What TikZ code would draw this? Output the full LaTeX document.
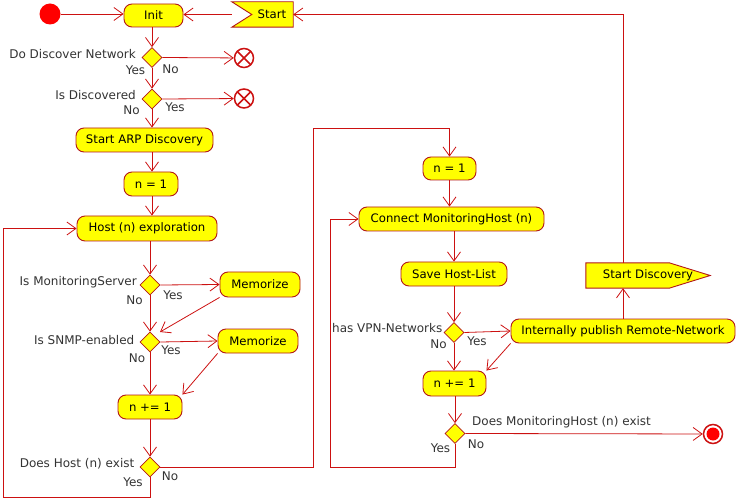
\documentclass[tikz,border=0pt]{standalone}
\usepackage{fontspec}
\setmainfont{DejaVu Sans}
\usetikzlibrary{shapes.geometric,arrows.meta}

\definecolor{umlred}{RGB}{204,17,17}
\definecolor{umlborder}{RGB}{178,24,24}
\definecolor{umlyellow}{RGB}{255,255,0}
\definecolor{guardgray}{RGB}{51,51,51}

\tikzset{
    act/.style={draw=umlborder, line width=0.9bp, fill=umlyellow, rounded corners=8bp, minimum height=24bp, inner sep=0pt, font=\fontsize{11.7bp}{14bp}\selectfont},
    choice/.style={diamond, draw=umlborder, line width=0.7bp, fill=umlyellow, minimum size=20bp, inner sep=0pt},
    guard/.style={text=guardgray, inner sep=0pt, font=\fontsize{12bp}{14bp}\selectfont},
    sigtext/.style={inner sep=0pt, font=\fontsize{11.7bp}{14bp}\selectfont},
    sigframe/.style={inner sep=0pt, minimum height=25bp},
    sigline/.style={draw=umlborder, line width=0.9bp, fill=umlyellow},
    flow/.style={draw=umlred, line width=0.8bp, -{Straight Barb[length=9bp,width=13bp]}},
    stopx/.style={circle, draw=umlred, line width=1.5bp, minimum size=19bp, inner sep=0pt,
        path picture={\draw[umlred, line width=1.5bp] (path picture bounding box.north west) -- (path picture bounding box.south east) (path picture bounding box.north east) -- (path picture bounding box.south west);}},
}

\begin{document}
\begin{tikzpicture}[x=1bp,y=-1bp]
    \useasboundingbox (0,0) rectangle (737,500);

    \node[circle, fill=red, minimum size=21bp, inner sep=0pt] (begin) at (50,14) {};
    \node[act, minimum width=59bp, minimum height=23bp] (init) at (153.5,15.5) {Init};

    \node[sigframe, minimum width=61bp] (start) at (262.5,14.5) {};
    \draw[sigline] (start.north west) -- (start.north east) -- (start.south east) -- (start.south west) -- ([xshift=20bp]start.west) -- cycle;
    \node[sigtext] (startText) at (272,14.5) {Start};

    \node[choice] (d1) at (152,57.5) {};
    \node[stopx] (x1) at (244,58) {};
    \node[choice] (d2) at (152,99) {};
    \node[stopx] (x2) at (244,98.5) {};
    \node[act, minimum width=137bp] (arp) at (144.5,140) {Start ARP Discovery};
    \node[act, minimum width=54bp] (n1) at (151,184) {n = 1};
    \node[act, minimum width=140bp, minimum height=25bp] (host) at (147,228.5) {Host (n) exploration};
    \node[choice] (d3) at (150,285) {};
    \node[act, minimum width=80bp, minimum height=25bp] (mem1) at (260,284.5) {Memorize};
    \node[choice] (d4) at (150,342) {};
    \node[act, minimum width=80bp] (mem2) at (258,341) {Memorize};
    \node[act, minimum width=64bp] (inc) at (150,407) {n += 1};
    \node[choice] (d5) at (150,467) {};

    \node[act, minimum width=53bp, minimum height=23bp] (n1b) at (449.5,168.5) {n = 1};
    \node[act, minimum width=185bp] (conn) at (451.5,219) {Connect MonitoringHost (n)};
    \node[act, minimum width=106bp] (save) at (454,274) {Save Host-List};
    \node[choice] (d6) at (454,332.5) {};
    \node[act, minimum width=224bp] (pub) at (623,331) {Internally publish Remote-Network};
    \node[act, minimum width=63bp, minimum height=25bp] (incb) at (454.5,383.5) {n += 1};
    \node[choice] (d7) at (455,433.5) {};
    \node[circle, draw=umlred, line width=1.5bp, minimum size=19bp, inner sep=0pt] (end) at (713,434) {};
    \fill[red] (end) circle (6.5bp);

    \node[sigframe, minimum width=124bp] (disc) at (648,275.5) {};
    \draw[sigline] (disc.north west) -- ([xshift=-41bp]disc.north east) -- (disc.east) -- ([xshift=-41bp]disc.south east) -- (disc.south west) -- cycle;
    \node[sigtext] (discText) at (648,275.5) {Start Discovery};

    \node[guard, anchor=east] (qDisc) at (136,54) {Do Discover Network};
    \node[guard] (qDiscYes) at (135.5,70.5) {Yes};
    \node[guard] (qDiscNo) at (170.5,69) {No};
    \node[guard, anchor=east] (qKnown) at (136,95.5) {Is Discovered};
    \node[guard] (qKnownNo) at (131.5,110) {No};
    \node[guard] (qKnownYes) at (175,107.5) {Yes};
    \node[guard, anchor=east] (qServer) at (137,282) {Is MonitoringServer};
    \node[guard] (qServerNo) at (134.5,300) {No};
    \node[guard] (qServerYes) at (173,295) {Yes};
    \node[guard, anchor=east] (qSnmp) at (134.5,340.5) {Is SNMP-enabled};
    \node[guard] (qSnmpNo) at (137,358) {No};
    \node[guard] (qSnmpYes) at (171,350.5) {Yes};
    \node[guard, anchor=east] (qHost) at (134.5,464) {Does Host (n) exist};
    \node[guard] (qHostYes) at (133,482) {Yes};
    \node[guard] (qHostNo) at (170,476.5) {No};
    \node[guard, anchor=east] (qVpn) at (442.5,328) {has VPN-Networks};
    \node[guard] (qVpnNo) at (438.5,344) {No};
    \node[guard] (qVpnYes) at (477,341.5) {Yes};
    \node[guard, anchor=west] (qMore) at (472,422.5) {Does MonitoringHost (n) exist};
    \node[guard] (qMoreNo) at (476,444) {No};
    \node[guard] (qMoreYes) at (440.5,448) {Yes};

    \coordinate (jumpA) at (313,128);
    \coordinate (loopA) at (3,497);
    \coordinate (loopB) at (330,467);

    \draw [flow] (begin) -- (begin -| init.west);
    \draw [flow] (start.west) -- (start.west -| init.east);
    \draw [flow] (d1 |- init.south) -- (d1.north);
    \draw [flow] (d1.east) -- (x1);
    \draw [flow] (d1.south) -- (d2.north);
    \draw [flow] (d2.east) -- (x2);
    \draw [flow] (d2.south) -- (d2.south |- arp.north);
    \draw [flow] (d2 |- arp.south) -- (d2 |- n1.north);
    \draw [flow] (d2 |- n1.south) -- (d2 |- host.north);
    \draw [flow] (d3 |- host.south) -- (d3.north);
    \draw [flow] (d3.east) -- (mem1.west);
    \draw [flow] (mem1.south west) -- ([shift={(10,-10)}]d4.center);
    \draw [flow] (d3.south) -- (d4.north);
    \draw [flow] (d4.east) -- (mem2.west);
    \draw [flow] (mem2.south west) -- (inc.north east);
    \draw [flow] (d4.south) -- (inc.north);
    \draw [flow] (inc.south) -- (d5.north);
    \draw [flow] (d5.east) -| (jumpA) -| (n1b.north);
    \draw [flow] (d5.south) |- (loopA) |- (host.west);

    \draw [flow] (n1b.south) -- (n1b.south |- conn.north);
    \draw [flow] (d6 |- conn.south) -- (d6 |- save.north);
    \draw [flow] (d6 |- save.south) -- (d6.north);
    \draw [flow] (d6.east) -- (pub.west);
    \draw [flow] (pub.south west) -- (incb.north east);
    \draw [flow] (d6.south) -- (d6 |- incb.north);
    \draw [flow] (d7 |- incb.south) -- (d7.north);
    \draw [flow] (d7.east) -- (end);
    \draw [flow] (d7.south) |- (loopB) |- (conn.west);
    \draw [flow] (pub.north) -- (pub.north |- disc.south);
    \draw [flow] (pub.north |- disc.north) |- (start.east);
\end{tikzpicture}
\end{document}
